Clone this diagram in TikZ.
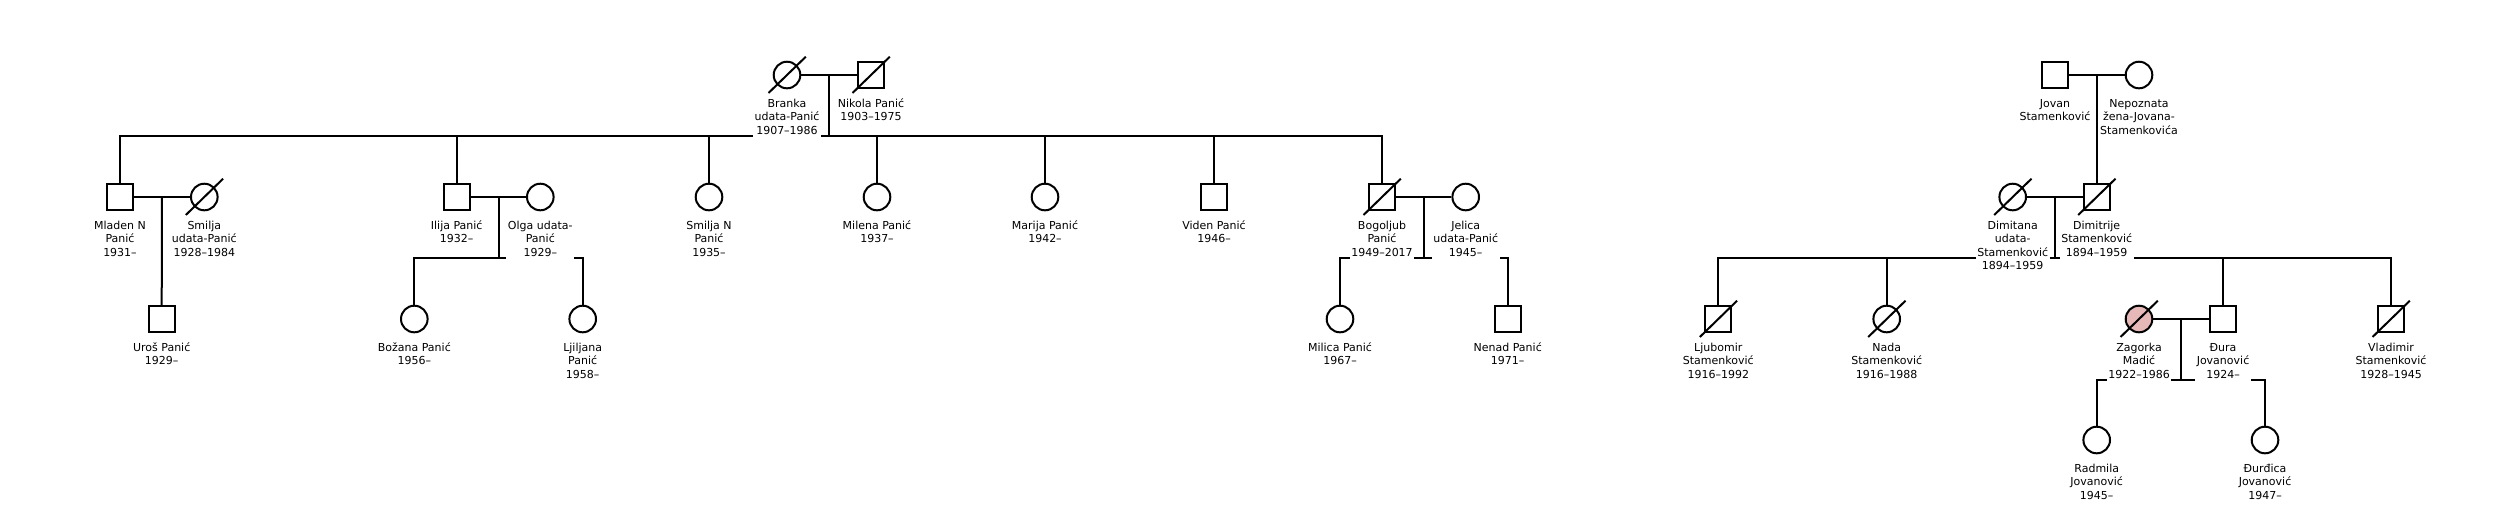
\documentclass[tikz,border=0pt]{standalone}
\usepackage{fontspec}
\setmainfont{DejaVu Sans}
\definecolor{zpink}{RGB}{230,184,184}
\pgfdeclarelayer{bg}
\pgfsetlayers{bg,main}
\newcommand{\pers}[5]{%
  \node[#4] (#1) at (#2,#3) {};
  \node[lbl,yshift=-10.54pt] (#1-l) at (#2,#3) {\strut #5\strut};}
\newcommand{\deceased}[1]{\draw[line width=1pt] (#1.center) ++(-18.5,18) -- ++(37.3,-36.3);}
\begin{document}
\begin{tikzpicture}[x=0.5pt,y=-0.5pt,
  male/.style={draw,rectangle,minimum size=13.15pt,inner sep=0pt,fill=white,line width=1pt},
  female/.style={draw,circle,minimum size=13.3pt,inner sep=0pt,fill=white,line width=1pt},
  lbl/.style={font=\fontsize{5.5pt}{6.8pt}\selectfont,align=center,fill=white,
    inner xsep=0.8pt,inner ysep=0.5pt,anchor=north},
  conn/.style={line width=1pt,line join=miter}]
\useasboundingbox (0,0) rectangle (2511,516);

% ---------------- Panić family ----------------
\pers{branka}{787}{75}{female}{Branka\\udata-Panić\\1907–1986}
\pers{nikola}{871}{75}{male}{Nikola Panić\\1903–1975}

\pers{mladen}{120}{197}{male}{Mladen N\\Panić\\1931–}
\pers{smilja}{204.3}{197}{female}{Smilja\\udata-Panić\\1928–1984}
\pers{ilija}{456.7}{197}{male}{Ilija Panić\\1932–}
\pers{olga}{540.3}{197}{female}{Olga udata-\\Panić\\1929–}
\pers{smiljan}{709}{197}{female}{Smilja N\\Panić\\1935–}
\pers{milena}{877}{197}{female}{Milena Panić\\1937–}
\pers{marija}{1045}{197}{female}{Marija Panić\\1942–}
\pers{viden}{1214}{197}{male}{Viden Panić\\1946–}
\pers{bogoljub}{1382}{197}{male}{Bogoljub\\Panić\\1949–2017}
\pers{jelica}{1465.7}{197}{female}{Jelica\\udata-Panić\\1945–}

\pers{uros}{161.7}{319}{male}{Uroš Panić\\1929–}
\pers{bozana}{414.3}{319}{female}{Božana Panić\\1956–}
\pers{ljiljana}{582.7}{319}{female}{Ljiljana\\Panić\\1958–}
\pers{milica}{1340}{319}{female}{Milica Panić\\1967–}
\pers{nenad}{1507.7}{319}{male}{Nenad Panić\\1971–}

% ---------------- Stamenković family ----------------
\pers{jovan}{2055}{75}{male}{Jovan\\Stamenković}
\pers{nepoznata}{2139}{75}{female}{Nepoznata\\žena-Jovana-\\Stamenkovića}

\pers{dimitana}{2012.7}{197}{female}{Dimitana\\udata-\\Stamenković\\1894–1959}
\pers{dimitrije}{2096.7}{197}{male}{Dimitrije\\Stamenković\\1894–1959}

\pers{ljubomir}{1718.3}{319}{male}{Ljubomir\\Stamenković\\1916–1992}
\pers{nada}{1886.7}{319}{female}{Nada\\Stamenković\\1916–1988}
\pers{zagorka}{2139}{319}{female,fill=zpink}{Zagorka\\Madić\\1922–1986}
\pers{dura}{2223}{319}{male}{Đura\\Jovanović\\1924–}
\pers{vladimir}{2391}{319}{male}{Vladimir\\Stamenković\\1928–1945}

\pers{radmila}{2096.7}{440}{female}{Radmila\\Jovanović\\1945–}
\pers{durdica}{2265}{440}{female}{Đurđica\\Jovanović\\1947–}

% deceased marks
\deceased{branka}
\deceased{nikola}
\deceased{smilja}
\deceased{bogoljub}
\deceased{dimitana}
\deceased{dimitrije}
\deceased{ljubomir}
\deceased{nada}
\deceased{zagorka}
\deceased{vladimir}

% ---------------- connectors ----------------
\begin{pgfonlayer}{bg}
% Panić
\coordinate (m1) at (829,75);
\coordinate (s1) at (829,136);
\draw[conn] (branka) -- (nikola);
\draw[conn] (m1) -- (s1);
\draw[conn] (mladen.north) |- (s1) -| (bogoljub.north);
\foreach \c in {ilija,smiljan,milena,marija,viden}
  \draw[conn] (\c.north) -- (\c.north |- s1);

\coordinate (m2) at (162,197);
\draw[conn] (mladen) -- (smilja);
\draw[conn] (m2) -- (uros.north);

\coordinate (m3) at (498.5,197);
\coordinate (s3) at (498.5,258);
\draw[conn] (ilija) -- (olga);
\draw[conn] (m3) -- (s3);
\draw[conn] (bozana.north) |- (s3) -| (ljiljana.north);

\coordinate (m4) at (1423.9,197);
\coordinate (s4) at (1423.9,258);
\draw[conn] (bogoljub) -- (jelica);
\draw[conn] (m4) -- (s4);
\draw[conn] (milica.north) |- (s4) -| (nenad.north);

% Stamenković
\coordinate (m5) at (2096.7,75);
\draw[conn] (jovan) -- (nepoznata);
\draw[conn] (m5) -- (dimitrije.north);

\coordinate (m6) at (2054.7,197);
\coordinate (s6) at (2054.7,258);
\draw[conn] (dimitana) -- (dimitrije);
\draw[conn] (m6) -- (s6);
\draw[conn] (ljubomir.north) |- (s6) -| (vladimir.north);
\foreach \c in {nada,dura}
  \draw[conn] (\c.north) -- (\c.north |- s6);

\coordinate (m7) at (2181,319);
\coordinate (s7) at (2181,379.5);
\draw[conn] (zagorka) -- (dura);
\draw[conn] (m7) -- (s7);
\draw[conn] (radmila.north) |- (s7) -| (durdica.north);
\end{pgfonlayer}
\end{tikzpicture}
\end{document}
